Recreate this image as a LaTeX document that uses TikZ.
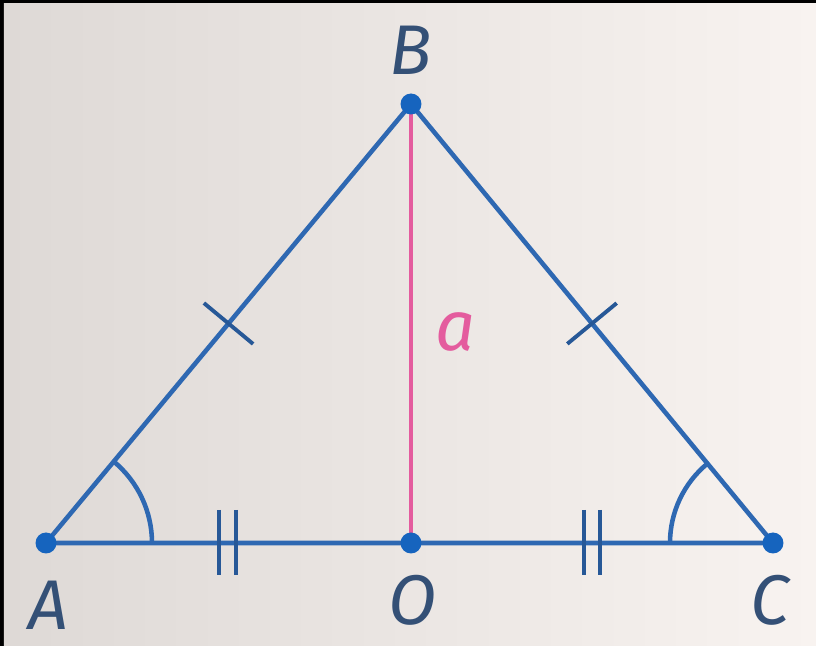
\documentclass[tikz,border=0pt]{standalone}
\usepackage{fontspec}
\setsansfont{Fira Sans}
\usetikzlibrary{calc}
\definecolor{lineblue}{RGB}{46,104,178}
\definecolor{dotblue}{RGB}{22,100,190}
\definecolor{labelgray}{RGB}{52,80,118}
\definecolor{medpink}{RGB}{228,92,158}
\begin{document}
\begin{tikzpicture}[x=1cm,y=1cm]
    \tikzset{
        side/.style={lineblue,line width=1.3pt},
        tick/.style={lineblue!85!black,line width=1.1pt},
        lbl/.style={labelgray,font=\fontsize{20}{20}\selectfont\sffamily\itshape,inner sep=0pt}
    }
    % frame and paper
    \fill[black] (0,0) rectangle (8.16,6.46);
    \shade[left color={rgb,255:red,222;green,217;blue,214},right color={rgb,255:red,248;green,243;blue,240}]
        (0.04,0) rectangle (8.16,6.42);

    \coordinate (A) at (0.46,1.03);
    \coordinate (O) at (4.11,1.03);
    \coordinate (C) at (7.73,1.03);
    \coordinate (B) at (4.11,5.42);

    % sides
    \draw[side] (A) -- (B) -- (C) -- cycle;
    \draw[medpink,line width=1pt] (B) -- (O)
        node[pos=0.52,right=3pt,medpink,font=\fontsize{20}{20}\selectfont\sffamily\itshape] (a) {a};

    % equal angles
    \draw[side] ($(A)+(1.06,0)$) arc[start angle=0,end angle=50.3,radius=1.06];
    \draw[side] ($(C)+(129.5:1.03)$) arc[start angle=129.5,end angle=180,radius=1.03];

    % single ticks
    \draw[tick] ($(A)!.5!(B)!.32cm!90:(B)$) -- ($(A)!.5!(B)!.32cm!-90:(B)$);
    \draw[tick] ($(C)!.5!(B)!.32cm!90:(B)$) -- ($(C)!.5!(B)!.32cm!-90:(B)$);

    % double ticks
    \foreach \x in {2.19,2.36,5.84,6.00}
        \draw[tick] (\x,1.36) -- (\x,0.71);

    % points
    \foreach \p in {A,O,C,B}
        \fill[dotblue] (\p) circle (0.105);

    \node[lbl] (lB) at (4.11,5.96) {B};
    \node[lbl] (lA) at (0.48,0.41) {A};
    \node[lbl] (lO) at (4.13,0.46) {O};
    \node[lbl] (lC) at (7.70,0.46) {C};
\end{tikzpicture}
\end{document}
